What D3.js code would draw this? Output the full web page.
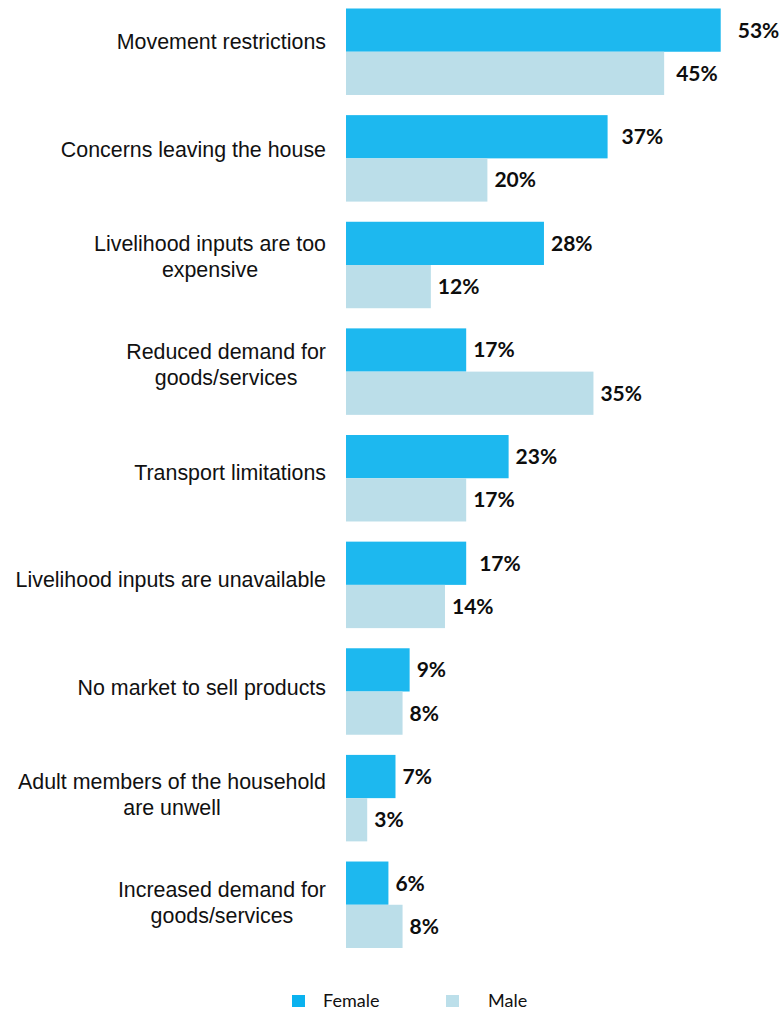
<!DOCTYPE html>
<html>
<head>
<meta charset="utf-8">
<script src="https://cdn.jsdelivr.net/npm/d3@7"></script>
<style>
  html, body { margin: 0; padding: 0; background: #fff; }
  svg { display: block; }
</style>
</head>
<body>
<svg id="chart" width="781" height="1012"></svg>
<script>
// Reasons livelihoods were affected, by sex of respondent (share of respondents, %)
const categories = [
  "Movement restrictions",
  "Concerns leaving the house",
  "Livelihood inputs are too\nexpensive",
  "Reduced demand for\ngoods/services",
  "Transport limitations",
  "Livelihood inputs are unavailable",
  "No market to sell products",
  "Adult members of the household\nare unwell",
  "Increased demand for\ngoods/services"
];
const seriesNames = ["Female", "Male"];
const femaleValues = [53, 37, 28, 17, 23, 17, 9, 7, 6];
const maleValues   = [45, 20, 12, 35, 17, 14, 8, 3, 8];

const colors = { Female: "#1DB8EF", Male: "#BBDEE9" };
const legendColors = { Female: "#0AB2EF", Male: "#BCDFEA" };

const rows = categories.map((c, i) => ({
  category: c,
  values: [
    { series: "Female", value: femaleValues[i] },
    { series: "Male", value: maleValues[i] }
  ]
}));

const svg = d3.select("#chart");

// Horizontal value scale (percent)
const x = d3.scaleLinear().domain([0, 100]).range([346, 346 + 707]);

// One band per category, split into a Female and a Male bar
const y = d3.scaleBand()
  .domain(categories)
  .range([8.5, 948])
  .paddingInner(0.189)
  .paddingOuter(0);

const ySub = d3.scaleBand()
  .domain(seriesNames)
  .range([0, y.bandwidth()]);

// Category label positions
const yLabel = d3.scalePoint()
  .domain(categories)
  .range([41.5, 902.3]);

// Small hand adjustments for value-label placement
const labelNudge = {
  "0|Female": 10, "0|Male": 5, "1|Female": 7, "5|Female": 6
};

const groups = svg.append("g")
  .selectAll("g.row")
  .data(rows)
  .join("g")
  .attr("class", "row")
  .attr("transform", d => `translate(0,${y(d.category)})`);

groups.selectAll("rect")
  .data(d => d.values)
  .join("rect")
  .attr("x", x(0))
  .attr("y", d => ySub(d.series))
  .attr("width", d => x(d.value) - x(0))
  .attr("height", ySub.bandwidth())
  .attr("fill", d => colors[d.series]);

groups.each(function(row, i) {
  d3.select(this).selectAll("text.val")
    .data(row.values)
    .join("text")
    .attr("class", "val")
    .attr("x", d => x(d.value) + 7 + (labelNudge[i + "|" + d.series] || 0))
    .attr("y", d => ySub(d.series) + ySub.bandwidth() / 2 + 7.5)
    .attr("font-family", "Lato, 'Open Sans', sans-serif")
    .attr("font-weight", 700)
    .attr("font-size", 21)
    .attr("fill", "#0d0d0d")
    .text(d => d.value + "%");
});

// Category labels: block right-aligned, lines centred within the block
const labelRight = 326;
const lineGap = 26;
const catFont = 21.4;
const labelLayer = svg.append("g");
categories.forEach(c => {
  const lines = c.split("\n");
  const g = labelLayer.append("g");
  const texts = lines.map((ln, k) => g.append("text")
    .attr("font-family", "'Liberation Sans', Arial, sans-serif")
    .attr("font-size", catFont)
    .attr("fill", "#111")
    .attr("text-anchor", "middle")
    .attr("y", yLabel(c) + (k - (lines.length - 1) / 2) * lineGap + catFont * 0.716 / 2)
    .text(ln));
  const maxW = d3.max(texts, t => t.node().getComputedTextLength());
  const cx = Math.max(labelRight - maxW / 2, 15 + maxW / 2);
  texts.forEach(t => t.attr("x", cx));
});

// Legend
const legend = svg.append("g");
const legendItems = [
  { name: "Female", sx: 292, tx: 323 },
  { name: "Male", sx: 446, tx: 488 }
];
legendItems.forEach(item => {
  legend.append("rect")
    .attr("x", item.sx).attr("y", 995)
    .attr("width", 13).attr("height", 12)
    .attr("fill", legendColors[item.name]);
  legend.append("text")
    .attr("x", item.tx).attr("y", 1007)
    .attr("font-family", "Lato, 'Open Sans', sans-serif")
    .attr("font-size", 18)
    .attr("fill", "#111")
    .text(item.name);
});
</script>
</body>
</html>
